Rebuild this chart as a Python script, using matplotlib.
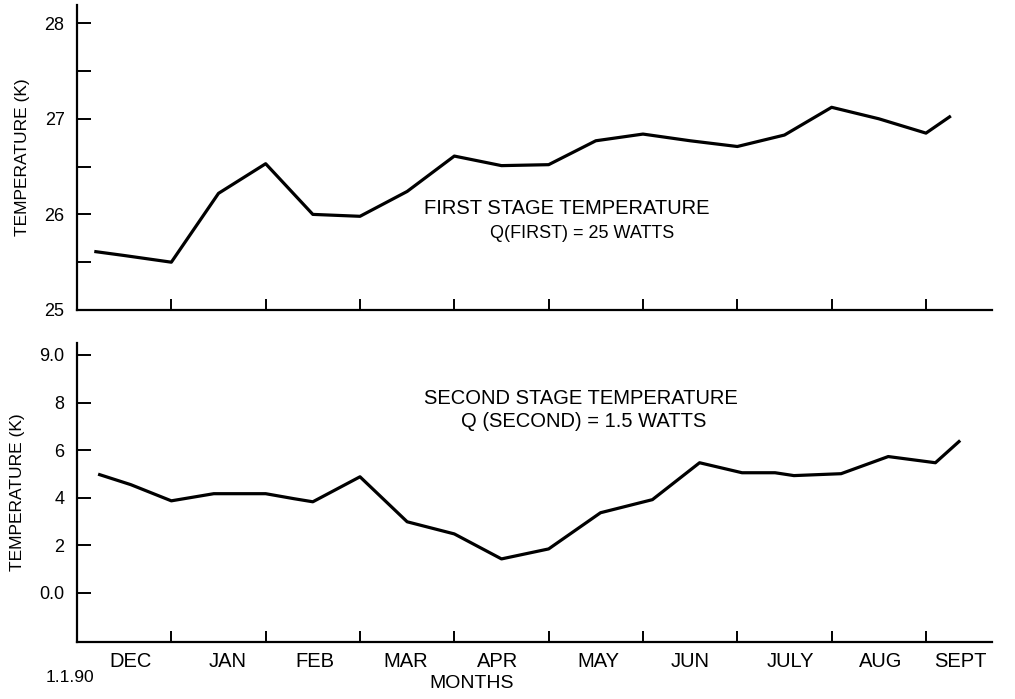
import numpy as np
import matplotlib
matplotlib.use("Agg")
import matplotlib.pyplot as plt

plt.rcParams['font.family'] = ['Liberation Sans', 'DejaVu Sans']

# month index, 0 = start of DEC
months = ["DEC", "JAN", "FEB", "MAR", "APR", "MAY", "JUN", "JULY", "AUG", "SEPT"]
month_pos = [0.57, 1.60, 2.52, 3.48, 4.46, 5.53, 6.50, 7.56, 8.52, 9.36]

# first stage temperature (K)
x1 = [0.2, 0.5, 1.0, 1.5, 2.0, 2.5, 3.0, 3.5, 4.0, 4.5,
      5.0, 5.5, 6.0, 6.5, 7.0, 7.5, 8.0, 8.5, 9.0, 9.25]
t1 = [25.61, 25.57, 25.50, 26.22, 26.53, 26.00, 25.98, 26.24, 26.61, 26.51,
      26.52, 26.77, 26.84, 26.77, 26.71, 26.83, 27.12, 27.00, 26.85, 27.02]

# second stage temperature (K)
x2 = [0.24, 0.57, 1.0, 1.45, 2.0, 2.3, 2.5, 3.0, 3.5, 4.0, 4.5,
      5.0, 5.55, 6.1, 6.6, 7.05, 7.4, 7.6, 8.1, 8.6, 9.1, 9.35]
t2 = [4.97, 4.55, 3.87, 4.17, 4.17, 3.96, 3.83, 4.88, 2.99, 2.48, 1.43,
      1.85, 3.37, 3.92, 5.47, 5.05, 5.05, 4.93, 5.01, 5.73, 5.47, 6.36]

top_ticks = [25, 26, 27, 28]
top_minor = [25.5, 26.5, 27.5]
bot_ticks = [0, 2, 4, 6, 8, 10]
bot_labels = ["0.0", "2", "4", "6", "8", "9.0"]

W, H = 1015, 699
fig = plt.figure(figsize=(W / 100, H / 100), dpi=100)
ax1 = fig.add_axes([77 / W, 1 - 310 / H, (992 - 77) / W, (310 - 5) / H])
ax2 = fig.add_axes([77 / W, 1 - 642 / H, (992 - 77) / W, (642 - 343) / H])

fs = 13
for ax in (ax1, ax2):
    for s in ("top", "right"):
        ax.spines[s].set_visible(False)
    for s in ("left", "bottom"):
        ax.spines[s].set_linewidth(1.6)
    ax.set_xlim(0, 9.7)
    ax.set_xticks(np.arange(1, 10))
    ax.set_xticklabels([])
    ax.tick_params(axis="x", which="major", direction="in", length=8, width=1.4)
    ax.tick_params(axis="y", which="both", direction="in", length=10, width=1.4,
                   pad=9, labelsize=fs)
    ax.set_ylabel("TEMPERATURE (K)", fontsize=12.5, labelpad=10)

ax1.plot(x1, t1, color="black", lw=2.3)
ax1.set_ylim(25, 28.19)
ax1.set_yticks(top_ticks)
ax1.set_yticks(top_minor, minor=True)
ax1.text(5.19, 26.06, "FIRST STAGE TEMPERATURE", ha="center", va="center", fontsize=14.5)
ax1.text(5.36, 25.8, "Q(FIRST) = 25 WATTS", ha="center", va="center", fontsize=13)

ax2.plot(x2, t2, color="black", lw=2.3)
ax2.set_ylim(-2.06, 10.5)
ax2.set_yticks(bot_ticks)
ax2.set_yticklabels(bot_labels)
ax2.set_xticks(month_pos, minor=True)
ax2.set_xticklabels(months, minor=True, fontsize=14.5)
ax2.tick_params(axis="x", which="minor", length=0, pad=7)
ax2.text(5.34, 8.15, "SECOND STAGE TEMPERATURE", ha="center", va="center", fontsize=14.5)
ax2.text(5.37, 7.2, "Q (SECOND) = 1.5 WATTS", ha="center", va="center", fontsize=14.5)

fig.text(472 / W, 1 - 684 / H, "MONTHS", ha="center", va="center", fontsize=14)
fig.text(70 / W, 1 - 677 / H, "1.1.90", ha="center", va="center", fontsize=12.5)

fig.savefig("out.png", dpi=100)
